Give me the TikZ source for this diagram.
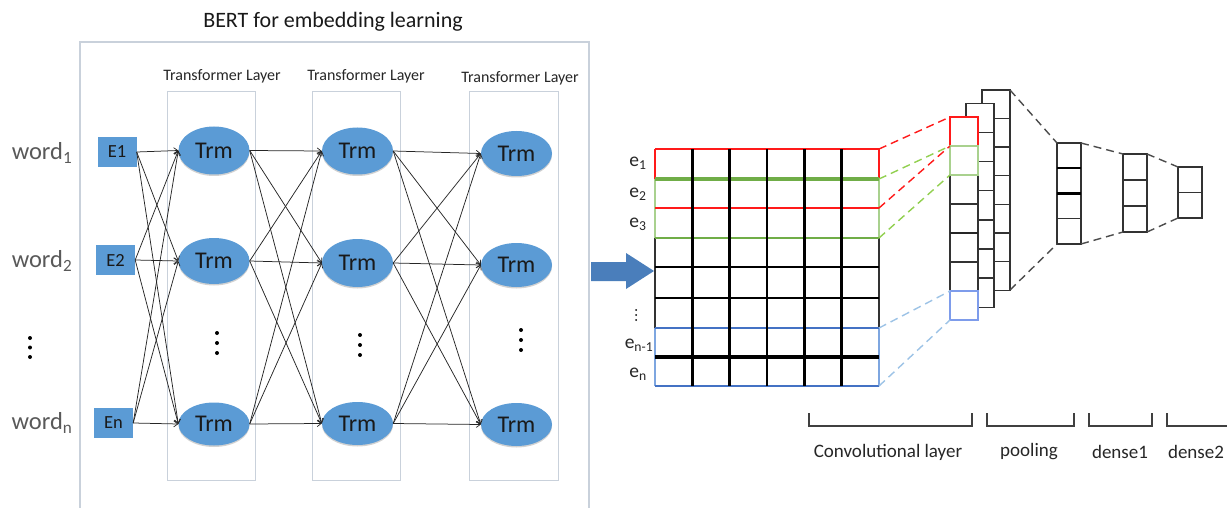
\documentclass[tikz,border=0pt]{standalone}
\usepackage{fontspec}
\setmainfont{Carlito}
\usetikzlibrary{arrows.meta,shapes.geometric,calc,shadows}

\definecolor{officeblue}{HTML}{5B9BD5}
\definecolor{arrowblue}{HTML}{4A7EBB}
\definecolor{framegray}{HTML}{C9D1DB}
\definecolor{winred}{HTML}{FF1A1A}
\definecolor{wingreen}{HTML}{70AD47}
\definecolor{winlgreen}{HTML}{A9D18E}
\definecolor{winblue}{HTML}{4472C4}
\definecolor{winlblue}{HTML}{7EA6E0}
\definecolor{dashgreen}{HTML}{92D050}
\definecolor{dashblue}{HTML}{9DC3E6}
\definecolor{wordgray}{HTML}{595959}

\begin{document}
\begin{tikzpicture}[x=1pt,y=-1pt,
  trm/.style={ellipse, fill=officeblue, inner sep=0pt, minimum width=71pt,
    minimum height=46pt, font=\fontsize{24}{24}\selectfont, text=black!90,
    drop shadow={shadow xshift=0pt, shadow yshift=-1.5pt, opacity=0.18, fill=black}},
  ebox/.style={rectangle, fill=officeblue, inner sep=0pt, minimum width=39pt,
    minimum height=30pt, font=\fontsize{18.5}{18.5}\selectfont, text=black!90},
  link/.style={draw=black!85, line width=0.75pt,
    -{Straight Barb[length=4pt,width=6pt,line width=0.7pt]}},
  layerbox/.style={draw=framegray, line width=1pt},
  layerlabel/.style={font=\fontsize{16}{16}\selectfont, text=black!85},
  wordlabel/.style={font=\fontsize{24.5}{24.5}\selectfont, text=wordgray},
  elabel/.style={font=\fontsize{19.5}{19.5}\selectfont, text=black!85},
  cell/.style={draw=black!80, line width=1.4pt, fill=white},
  fan/.style={dash pattern=on 8pt off 5pt, line width=1.4pt},
  bracketline/.style={draw=black!75, line width=1.1pt},
  caption/.style={font=\fontsize{19}{19}\selectfont, text=black!85}]

\useasboundingbox (0,0) rectangle (1227,508);

% ---------------- BERT part ----------------
\node[font=\fontsize{22}{22}\selectfont, text=black!90] (title) at (333,22) {BERT for embedding learning};
\draw[layerbox, line width=1.2pt] (80,512) -- (80,42) -- (589,42) -- (589,512);

% transformer layer frames
\draw[layerbox] (167,92) rectangle (255,480);
\draw[layerbox] (312,92) rectangle (400,480);
\draw[layerbox] (469,92) rectangle (558,480);
\node[layerlabel] (lab1) at (222,76) {Transformer Layer};
\node[layerlabel] (lab2) at (366,76) {Transformer Layer};
\node[layerlabel] (lab3) at (520,78) {Transformer Layer};

% input words
\node[wordlabel] (w1) at (42,153) {word\textsubscript{1}};
\node[wordlabel] (w2) at (42,261) {word\textsubscript{2}};
\node[wordlabel] (wn) at (42,423) {word\textsubscript{n}};
\foreach \yy in {338,347.5,357} \fill (30,\yy) circle (2);

% embeddings
\node[ebox] (e1) at (117,152) {E1};
\node[ebox] (e2) at (115.5,260) {E2};
\node[ebox] (en) at (113.5,423) {En};

% transformer cells
\node[trm, minimum height=48pt] (t11) at (214,150.5) {Trm};
\node[trm] (t12) at (214,261) {Trm};
\node[trm, minimum height=43pt] (t1n) at (214,424) {Trm};
\node[trm, minimum height=47pt] (t21) at (357.5,151) {Trm};
\node[trm, minimum height=48pt] (t22) at (357.5,263) {Trm};
\node[trm, minimum height=43pt] (t2n) at (357.5,423.5) {Trm};
\node[trm, minimum height=45pt] (t31) at (516.5,153.5) {Trm};
\node[trm, minimum height=44pt] (t32) at (516.5,265) {Trm};
\node[trm, minimum height=43pt] (t3n) at (516.5,424.5) {Trm};

\foreach \xx/\yy in {217/333,217/343,217/353,360/335,360/345,360/355,521/330,521/340,521/350}
  \fill (\xx,\yy) circle (2);

% full connections between consecutive layers
\foreach \a in {e1,e2,en}
  \foreach \b in {t11,t12,t1n}
    \draw[link] (\a.east) -- (\b.west);
\foreach \a in {t11,t12,t1n}
  \foreach \b in {t21,t22,t2n}
    \draw[link] (\a.east) -- (\b.west);
\foreach \a in {t21,t22,t2n}
  \foreach \b in {t31,t32,t3n}
    \draw[link] (\a.east) -- (\b.west);

% hand-over arrow
\fill[arrowblue] (591,262) -- (626,262) -- (626,253) -- (654,271) -- (626,289)
  -- (626,281) -- (591,281) -- cycle;

% ---------------- embedding matrix ----------------
\def\gl{655}\def\gr{879}
% window borders on the sides
\foreach \xx in {\gl,\gr}{
  \draw[winred, line width=1.6pt] (\xx,149) -- (\xx,179);
  \draw[winlgreen, line width=1.3pt] (\xx,179) -- (\xx,238);
  \draw[black!80, line width=1.1pt] (\xx,238) -- (\xx,328);
  \draw[winlblue, line width=1.3pt] (\xx,328) -- (\xx,386);
}
% row separators
\draw[winred, line width=2pt] (\gl,149) -- (\gr,149);
\draw[wingreen, line width=3.8pt] (\gl,179) -- (\gr,179);
\draw[winred, line width=2pt] (\gl,208) -- (\gr,208);
\draw[wingreen, line width=2.2pt] (\gl,238) -- (\gr,238);
\draw[black, line width=2.2pt] (\gl,267) -- (\gr,267);
\draw[black, line width=2.6pt] (\gl,298) -- (\gr,298);
\draw[winblue, line width=2.2pt] (\gl,328) -- (\gr,328);
\draw[black, line width=3.2pt] (\gl,357) -- (\gr,357);
\draw[winblue, line width=2.2pt] (\gl,386) -- (\gr,386);
% column separators
\foreach \k in {1,...,5}
  \draw[black, line width=2.7pt] ({655+37.33*\k},149) -- ({655+37.33*\k},386);

% row labels
\node[elabel] (l1) at (638,163) {e\textsubscript{1}};
\node[elabel] (l2) at (638,194) {e\textsubscript{2}};
\node[elabel] (l3) at (638,224) {e\textsubscript{3}};
\foreach \yy in {310,315,320} \fill (636,\yy) circle (1);
\node[elabel] (l4) at (639,345) {e\textsubscript{n-1}};
\node[elabel] (l5) at (638,374) {e\textsubscript{n}};

% ---------------- convolution feature maps ----------------
\foreach \k in {0,...,6}
  \draw[cell] (982,{90+28.6*\k}) rectangle (1010,{90+28.6*(\k+1)});
\foreach \k in {0,...,6}
  \draw[cell] (966,{103.5+29.1*\k}) rectangle (994,{103.5+29.1*(\k+1)});
\foreach \k in {2,...,5}
  \draw[cell] (950,{117+29*\k}) rectangle (978,{117+29*(\k+1)});
\draw[black!85, line width=2.2pt] (950,233) -- (978,233);
\draw[cell, draw=winred] (950,117) rectangle (978,146);
\draw[cell, draw=winlgreen] (950,146) rectangle (978,175);
\draw[cell, draw=dashblue!80!blue] (950,291) rectangle (978,320);

% pooling and dense layers
\foreach \k in {0,...,3}
  \draw[cell] (1057,{143+25.25*\k}) rectangle (1081,{143+25.25*(\k+1)});
\draw[black, line width=2.2pt] (1057,168.25) -- (1081,168.25);
\draw[black, line width=2.2pt] (1057,193.5) -- (1081,193.5);
\foreach \k in {0,...,2}
  \draw[cell] (1123,{154+26*\k}) rectangle (1147,{154+26*(\k+1)});
\foreach \k in {0,...,1}
  \draw[cell] (1178,{167+25.5*\k}) rectangle (1202,{167+25.5*(\k+1)});

% corner points for the fan-in lines
\coordinate (g1) at (879,149);  \coordinate (g2) at (879,179);
\coordinate (g3) at (879,208);  \coordinate (g4) at (879,238);
\coordinate (g7) at (879,328);  \coordinate (g8) at (879,386);
\coordinate (f1) at (950,117);  \coordinate (f2) at (950,146);
\coordinate (f3) at (950,175);  \coordinate (f7) at (950,291);
\coordinate (f8) at (950,320);
\coordinate (bt) at (1010,90);  \coordinate (bb) at (1010,290);
\coordinate (pl1) at (1057,143); \coordinate (pl2) at (1057,244);
\coordinate (pr1) at (1081,143); \coordinate (pr2) at (1081,244);
\coordinate (dl1) at (1123,154); \coordinate (dl2) at (1123,232);
\coordinate (dr1) at (1147,154); \coordinate (dr2) at (1147,232);
\coordinate (sl1) at (1178,167); \coordinate (sl2) at (1178,218);

\draw[fan, winred] (g1) -- (f1);
\draw[fan, winred] (g3) -- (f2);
\draw[fan, dashgreen] (g2) -- (f2);
\draw[fan, dashgreen] (g4) -- (f3);
\draw[fan, dashblue] (g7) -- (f7);
\draw[fan, dashblue] (g8) -- (f8);
\draw[fan, black!70] (bt) -- (pl1);
\draw[fan, black!70] (bb) -- (pl2);
\draw[fan, black!70] (pr1) -- (dl1);
\draw[fan, black!70] (pr2) -- (dl2);
\draw[fan, black!70] (dr1) -- (sl1);
\draw[fan, black!70] (dr2) -- (sl2);

% ---------------- stage brackets ----------------
\draw[bracketline] (809,413) -- (809,426) -- (972,426) -- (972,413);
\draw[bracketline] (987,413) -- (987,426) -- (1074,426) -- (1074,413);
\draw[bracketline] (1089,413) -- (1089,426) -- (1152,426) -- (1152,413);
\draw[bracketline] (1167,413) -- (1167,426) -- (1227,426);
\node[caption] (c1) at (888,452) {Convolutional layer};
\node[caption] (c2) at (1029,452) {pooling};
\node[caption] (c3) at (1120,452) {dense1};
\node[caption] (c4) at (1196,452) {dense2};
\end{tikzpicture}
\end{document}
